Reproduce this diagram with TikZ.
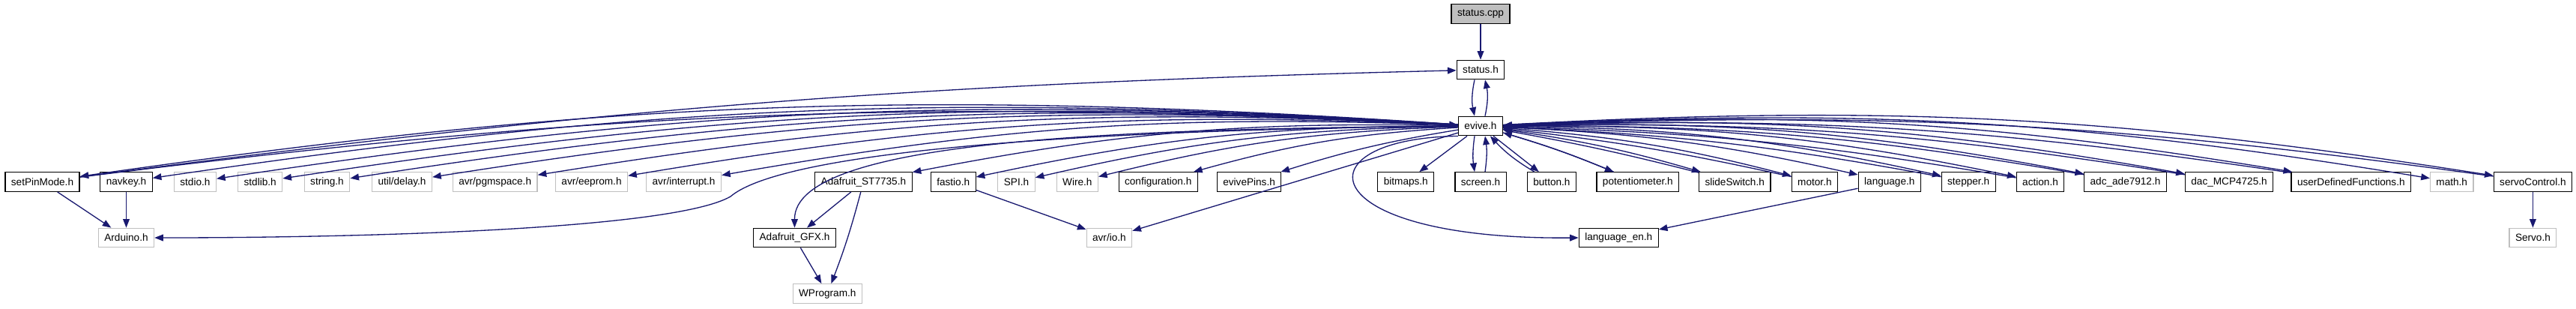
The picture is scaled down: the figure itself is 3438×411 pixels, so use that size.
\documentclass[tikz,border=0pt]{standalone}
\usepackage{fontspec}
\setmainfont{Liberation Sans}
\usetikzlibrary{arrows.meta, positioning}
\definecolor{edgeblue}{RGB}{25,25,112}
\definecolor{extgray}{RGB}{191,191,191}
\tikzset{
  hdr/.style={rectangle, draw=black, fill=white, line width=0.3pt,
              minimum height=6.4pt, inner xsep=2pt, inner ysep=0pt,
              font=\fontsize{3.4}{4}\selectfont},
  ext/.style={hdr, draw=extgray},
  root/.style={hdr, fill=extgray},
  dep/.style={-{Triangle[length=2.9pt, width=2.2pt]}, draw=edgeblue, line width=0.33pt},
}
\begin{document}
\begin{tikzpicture}[x=0.25pt, y=0.25pt]

  \useasboundingbox (0,0) rectangle (3438,-411);

  % top chain
  \node[root] (cpp) at (1976,-18.5) {status.cpp};
  \node[hdr] (statush) at (1976,-93) {status.h};
  \node[hdr] (evive) at (1976,-168) {evive.h};

  % headers included by evive.h
  \node[hdr] (setpin) at (56.5,-242.5) {setPinMode.h};
  \node[hdr] (navkey) at (168.5,-242.5) {navkey.h};
  \node[ext] (stdio) at (260.4,-242.5) {stdio.h};
  \node[ext] (stdlib) at (347.2,-242.5) {stdlib.h};
  \node[ext] (string) at (436.5,-242.5) {string.h};
  \node[ext] (delay) at (536.5,-242.5) {util/delay.h};
  \node[ext] (pgmspace) at (660.7,-242.5) {avr/pgmspace.h};
  \node[ext] (eeprom) at (789.5,-242.5) {avr/eeprom.h};
  \node[ext] (interrupt) at (912.6,-242.5) {avr/interrupt.h};
  \node[hdr] (st7735) at (1152.4,-242.5) {Adafruit\_ST7735.h};
  \node[hdr] (fastio) at (1272.2,-242.5) {fastio.h};
  \node[ext] (spi) at (1356.5,-242.5) {SPI.h};
  \node[ext] (wire) at (1437.8,-242.5) {Wire.h};
  \node[hdr] (config) at (1545.7,-242.5) {configuration.h};
  \node[hdr] (pins) at (1667.1,-242.5) {evivePins.h};
  \node[hdr] (bitmaps) at (1876.3,-242.5) {bitmaps.h};
  \node[hdr] (screen) at (1976,-242.5) {screen.h};
  \node[hdr] (button) at (2070.9,-242.5) {button.h};
  \node[hdr] (pot) at (2185.8,-242.5) {potentiometer.h};
  \node[hdr] (slide) at (2315.2,-242.5) {slideSwitch.h};
  \node[hdr] (motor) at (2421.9,-242.5) {motor.h};
  \node[hdr] (lang) at (2521.8,-242.5) {language.h};
  \node[hdr] (stepper) at (2627.1,-242.5) {stepper.h};
  \node[hdr] (action) at (2723,-242.5) {action.h};
  \node[hdr] (adc) at (2836.5,-242.5) {adc\_ade7912.h};
  \node[hdr] (dac) at (2975,-242.5) {dac\_MCP4725.h};
  \node[hdr] (userfn) at (3137.8,-242.5) {userDefinedFunctions.h};
  \node[ext] (math) at (3272.2,-242.5) {math.h};
  \node[hdr] (servoctl) at (3380.4,-242.5) {servoControl.h};

  % third and fourth row
  \node[ext] (arduino) at (168.5,-317) {Arduino.h};
  \node[hdr] (gfx) at (1060.5,-317) {Adafruit\_GFX.h};
  \node[ext] (avrio) at (1480.4,-317) {avr/io.h};
  \node[hdr] (langen) at (2160.3,-317) {language\_en.h};
  \node[ext] (servo) at (3380.4,-317) {Servo.h};
  \node[ext] (wprog) at (1104.3,-391.5) {WProgram.h};

  \draw[dep] (cpp) -- (statush);
  \draw[dep] ([xshift=-2pt]statush.south) to[bend right=12] ([xshift=-2pt]evive.north);
  \draw[dep] ([xshift=1.5pt]evive.north) to[bend right=12] ([xshift=1.5pt]statush.south);
  \draw[dep] (setpin) to[bend left=3] (statush);

  % evive.h to the left
  \draw[dep] (evive) to[bend right=6] (setpin);
  \draw[dep] (setpin) to[bend left=5] (evive);
  \draw[dep] (evive) to[bend right=6] (navkey);
  \draw[dep] (evive) to[bend right=6] (stdio);
  \draw[dep] (evive) to[bend right=6] (stdlib);
  \draw[dep] (evive) to[bend right=6] (string);
  \draw[dep] (evive) to[bend right=6] (delay);
  \draw[dep] (evive) to[bend right=6] (pgmspace);
  \draw[dep] (evive) to[bend right=6] (eeprom);
  \draw[dep] (evive) to[bend right=6] (interrupt);
  \draw[dep] (evive) to[bend right=6] (st7735);
  \draw[dep] (evive) to[bend right=6] (fastio);
  \draw[dep] (evive) to[bend right=6] (spi);
  \draw[dep] (evive) to[bend right=6] (wire);
  \draw[dep] (evive) to[bend right=6] (config);
  \draw[dep] (evive) to[bend right=4] (pins);
  \draw[dep] (evive) -- (bitmaps);
  \draw[dep] ([xshift=-2pt]evive.south) to[bend right=8] ([xshift=-2pt]screen.north);
  \draw[dep] ([xshift=1.5pt]screen.north) to[bend right=8] ([xshift=1.5pt]evive.south);
  \draw[dep] (evive) -- (button);
  \draw[dep] (button) to[bend left=8] (evive);

  % evive.h to the right
  \draw[dep] (evive) to[bend left=3] (pot);
  \draw[dep] (pot) to[bend right=3] (evive);
  \draw[dep] (evive) to[bend left=4] (slide);
  \draw[dep] (slide) to[bend right=2] (evive);
  \draw[dep] (evive) to[bend left=5] (motor);
  \draw[dep] (motor) to[bend right=3] (evive);
  \draw[dep] (evive) to[bend left=5] (lang);
  \draw[dep] (evive) to[bend left=6] (stepper);
  \draw[dep] (stepper) to[bend right=4] (evive);
  \draw[dep] (evive) to[bend left=6] (action);
  \draw[dep] (action) to[bend right=4] (evive);
  \draw[dep] (evive) to[bend left=6] (adc);
  \draw[dep] (adc) to[bend right=5] (evive);
  \draw[dep] (evive) to[bend left=6] (dac);
  \draw[dep] (dac) to[bend right=5] (evive);
  \draw[dep] (evive) to[bend left=6] (userfn);
  \draw[dep] (userfn) to[bend right=5] (evive);
  \draw[dep] (evive) to[bend left=6] (math);
  \draw[dep] (evive) to[bend left=6] (servoctl);
  \draw[dep] (servoctl) to[bend right=5] (evive);

  % lower rows
  \draw[dep] (evive.west) .. controls (1300,-175) and (1030,-215) .. (975,-262)
    .. controls (900,-305) and (500,-317) .. (arduino.east);
  \draw[dep] (evive.west) .. controls (1500,-172) and (1060,-185) .. (gfx.north);
  \draw[dep] (evive) -- (avrio);
  \draw[dep] (evive.south west) .. controls (1730,-185) and (1750,-320) .. (langen.west);
  \draw[dep] (setpin) -- (arduino);
  \draw[dep] (navkey) -- (arduino);
  \draw[dep] (st7735) -- (gfx);
  \draw[dep] (st7735) to[bend left=3] (wprog);
  \draw[dep] (gfx) -- (wprog);
  \draw[dep] (fastio) -- (avrio);
  \draw[dep] (lang) -- (langen);
  \draw[dep] (servoctl) -- (servo);

\end{tikzpicture}
\end{document}
